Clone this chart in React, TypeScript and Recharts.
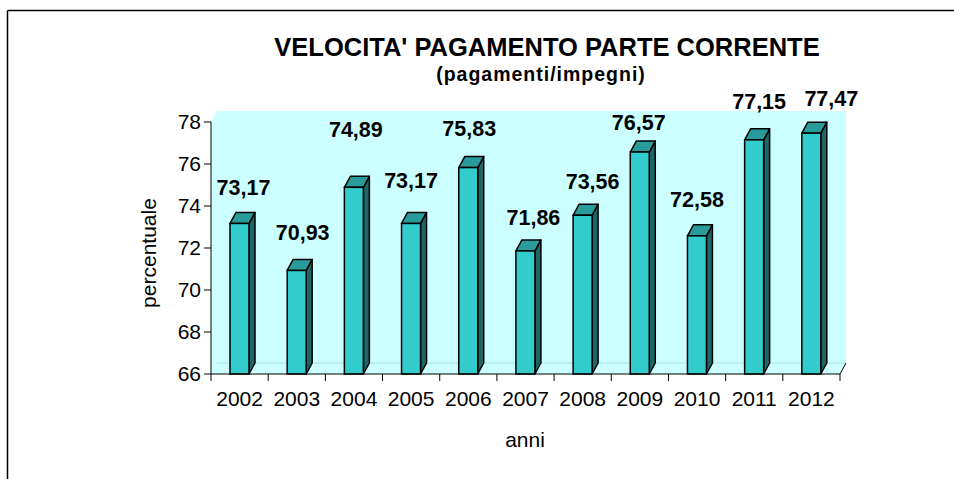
import React from "react";
import { Bar, BarChart, LabelList, ReferenceArea, XAxis, YAxis } from "recharts";

const anni = ["2002", "2003", "2004", "2005", "2006", "2007", "2008", "2009", "2010", "2011", "2012"];
const velocita = [73.17, 70.93, 74.89, 73.17, 75.83, 71.86, 73.56, 76.57, 72.58, 77.15, 77.47];
const yTicks = [66, 68, 70, 72, 74, 76, 78];

// small nudges for the value labels, as they sit in the original
const labelNudge = [
  [4, -28], [6, -30], [2, -50], [0, -35], [1, -32], [8, -26],
  [10, -26], [-1, -22], [0, -29], [5, -31], [20, -27],
];

const data = anni.map((anno, i) => ({ anno, valore: velocita[i] }));

const FONT = "'Liberation Sans', Arial, sans-serif";
const DX = 6;
const DY = -11;

function Wall(props: any) {
  const { x, y, width, height } = props;
  const b = y + height;
  const r = x + width;
  const step = width / anni.length;
  const pts = `${x},${b} ${x},${y} ${x + DX},${y + DY} ${r + DX},${y + DY} ${r + DX},${b + DY} ${r},${b}`;
  return (
    <g>
      <polygon points={pts} fill="#ccffff" stroke="none" />
      <line x1={x + DX} y1={b + DY} x2={r + DX} y2={b + DY} stroke="#a8e0e0" strokeWidth={1} />
      <line x1={r} y1={b} x2={r + DX} y2={b + DY} stroke="#000" strokeWidth={1} />
      {anni.map((_, i) => (
        <line key={i} x1={x + step * (i + 1)} y1={b} x2={x + step * (i + 1)} y2={b + 7} stroke="#000" strokeWidth={1} />
      ))}
      <line x1={x} y1={b} x2={x} y2={b + 7} stroke="#000" strokeWidth={1} />
    </g>
  );
}

function Bar3D(props: any) {
  const { x, y, width, height } = props;
  const b = y + height;
  const r = x + width;
  return (
    <g>
      <polygon
        points={`${r},${y} ${r + DX},${y + DY} ${r + DX},${b + DY} ${r},${b}`}
        fill="#1e6666"
        stroke="#000"
        strokeWidth={1.5}
        strokeLinejoin="round"
      />
      <polygon
        points={`${x},${y} ${x + DX},${y + DY} ${r + DX},${y + DY} ${r},${y}`}
        fill="#299b9b"
        stroke="#000"
        strokeWidth={1.5}
        strokeLinejoin="round"
      />
      <rect x={x} y={y} width={width} height={height} fill="#33cccc" stroke="#000" strokeWidth={1.5} />
    </g>
  );
}

function ValueLabel(props: any) {
  const { x, y, width, value, index } = props;
  const [nx, ny] = labelNudge[index] || [4, -29];
  return (
    <text
      x={x + width / 2 + nx}
      y={y + ny}
      textAnchor="middle"
      fontFamily={FONT}
      fontWeight="bold"
      fontSize={21.5}
      fill="#000"
    >
      {Number(value).toFixed(2).replace(".", ",")}
    </text>
  );
}

export default function App() {
  return (
    <div style={{ position: "absolute", left: 0, top: 0, width: 954, height: 479, background: "#fff" }}>
      <BarChart
        width={954}
        height={479}
        data={data}
        margin={{ top: 122, right: 114, bottom: 65, left: 0 }}
      >
        <XAxis
          dataKey="anno"
          height={40}
          axisLine={{ stroke: "#000" }}
          tickLine={false}
          tickSize={0}
          tickMargin={17}
          tick={{ fontSize: 21, fill: "#000", fontFamily: FONT }}
          interval={0}
        />
        <YAxis
          width={211}
          domain={[66, 78]}
          ticks={yTicks}
          interval={0}
          axisLine={{ stroke: "#000" }}
          tickLine={{ stroke: "#000" }}
          tickSize={7}
          tickMargin={3}
          tick={{ fontSize: 21, fill: "#000", fontFamily: FONT }}
        />
        <ReferenceArea y1={66} y2={78} shape={Wall} ifOverflow="visible" />
        <Bar dataKey="valore" barSize={19} shape={Bar3D} isAnimationActive={false}>
          <LabelList dataKey="valore" content={ValueLabel} />
        </Bar>
      </BarChart>
      <svg
        width={954}
        height={479}
        style={{ position: "absolute", left: 0, top: 0, pointerEvents: "none" }}
      >
        <line x1={7.5} y1={10.5} x2={954} y2={10.5} stroke="#000" strokeWidth={1.5} />
        <line x1={7.5} y1={10.5} x2={7.5} y2={479} stroke="#000" strokeWidth={1.5} />
        <text x={547} y={56} textAnchor="middle" fontFamily={FONT} fontWeight="bold" fontSize={25.5} fill="#000">
          VELOCITA' PAGAMENTO PARTE CORRENTE
        </text>
        <text x={541} y={81} textAnchor="middle" fontFamily={FONT} fontWeight="bold" fontSize={19.5} letterSpacing={1} fill="#000">
          (pagamenti/impegni)
        </text>
        <text
          x={0}
          y={0}
          transform="translate(156,253) rotate(-90)"
          textAnchor="middle"
          fontFamily={FONT}
          fontSize={21}
          fill="#000"
        >
          percentuale
        </text>
        <text x={525} y={447} textAnchor="middle" fontFamily={FONT} fontSize={21} fill="#000">
          anni
        </text>
      </svg>
    </div>
  );
}
